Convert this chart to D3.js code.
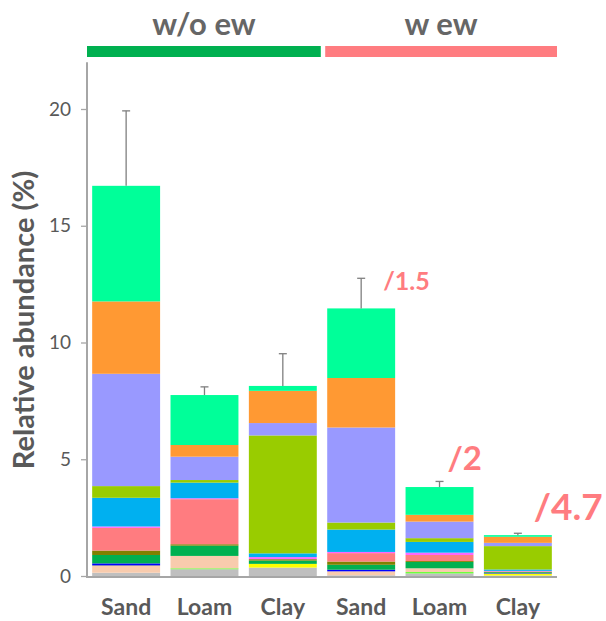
<!DOCTYPE html>
<html>
<head>
<meta charset="utf-8">
<script src="https://cdn.jsdelivr.net/npm/d3@7"></script>
<style>
  html, body { margin: 0; padding: 0; background: #fff; }
  svg { display: block; font-family: Lato, "Open Sans", sans-serif; }
</style>
</head>
<body>
<svg id="chart" width="606" height="621"></svg>
<script>
// ---- data ----
const categories = ["Sand", "Loam", "Clay", "Sand", "Loam", "Clay"];
const groups = ["w/o ew", "w ew"];
const seriesNames = ["gray", "lightgreen", "peach", "yellow", "blue", "green", "olive",
  "salmon", "magenta", "skyblue", "yellowgreen", "lavender", "orange", "springgreen"];
const seriesColors = ["#BFBFBF", "#66FF33", "#F8CBAD", "#FFFF00", "#0000FF", "#00B050", "#808000",
  "#FF7C80", "#FF66FF", "#00B0F0", "#99CC00", "#9999FF", "#FF9933", "#00FF99"];
// values per series, one per bar (Sand, Loam, Clay w/o ew; Sand, Loam, Clay w ew)
const gray        = [0.14, 0.29, 0.36, 0.03, 0.11, 0.02];
const lightgreen  = [0.00, 0.04, 0.00, 0.00, 0.06, 0.00];
const peach       = [0.29, 0.53, 0.00, 0.17, 0.16, 0.00];
const yellow      = [0.02, 0.00, 0.16, 0.00, 0.00, 0.08];
const blue        = [0.09, 0.00, 0.00, 0.07, 0.00, 0.02];
const green       = [0.36, 0.44, 0.14, 0.21, 0.27, 0.04];
const olive       = [0.19, 0.06, 0.06, 0.14, 0.04, 0.02];
const salmon      = [0.97, 1.93, 0.00, 0.36, 0.26, 0.02];
const magenta     = [0.06, 0.04, 0.09, 0.05, 0.10, 0.02];
const skyblue     = [1.23, 0.67, 0.16, 0.96, 0.46, 0.06];
const yellowgreen = [0.50, 0.11, 5.05, 0.30, 0.16, 1.00];
const lavender    = [4.81, 1.00, 0.53, 4.07, 0.71, 0.14];
const orange      = [3.10, 0.50, 1.38, 2.12, 0.29, 0.26];
const springgreen = [4.95, 2.14, 0.21, 2.98, 1.19, 0.07];
const errorTop    = [19.92, 8.10, 9.52, 12.75, 4.05, 1.83];
const yTicks = [0, 5, 10, 15, 20];
const ratioLabels = ["", "", "", "/1.5", "/2", "/4.7"];

const seriesValues = [gray, lightgreen, peach, yellow, blue, green, olive,
  salmon, magenta, skyblue, yellowgreen, lavender, orange, springgreen];

// ---- build table ----
const table = categories.map((c, i) => {
  const row = { idx: i, cat: c };
  seriesNames.forEach((s, k) => row[s] = seriesValues[k][i]);
  return row;
});
const stack = d3.stack().keys(seriesNames)(table);

// ---- scales ----
const svg = d3.select("#chart");
const x = d3.scaleBand().domain(d3.range(categories.length)).range([87, 557])
  .paddingInner(0.133).paddingOuter(0.066);
const y = d3.scaleLinear().domain([0, 22]).range([576, 62.3]);
const textCol = "#595959";
const axisCol = "#A6A6A6";

// ---- bars ----
svg.append("g").selectAll("g").data(stack).join("g")
  .attr("fill", (d, k) => seriesColors[k])
  .selectAll("rect").data(d => d).join("rect")
  .attr("x", (d, i) => x(i))
  .attr("width", x.bandwidth())
  .attr("y", d => y(d[1]))
  .attr("height", d => Math.max(0, y(d[0]) - y(d[1])));

// ---- error bars ----
const totals = table.map(r => d3.sum(seriesNames, s => r[s]));
const eb = svg.append("g").attr("stroke", "#7F7F7F").attr("stroke-width", 1.3);
errorTop.forEach((e, i) => {
  const cx = x(i) + x.bandwidth() / 2;
  eb.append("line").attr("x1", cx).attr("x2", cx).attr("y1", y(totals[i])).attr("y2", y(e));
  eb.append("line").attr("x1", cx - 4).attr("x2", cx + 4).attr("y1", y(e)).attr("y2", y(e));
});

// ---- axes ----
const yAxis = svg.append("g").attr("transform", "translate(87,0)")
  .call(d3.axisLeft(y).tickValues(yTicks).tickSize(6).tickPadding(10).tickSizeOuter(0));
yAxis.select(".domain").attr("stroke", axisCol).attr("stroke-width", 2)
  .attr("d", `M0,${y(22)}V${y(0) + 1}`);
yAxis.selectAll(".tick line").attr("stroke", axisCol).attr("stroke-width", 1.3);
yAxis.selectAll(".tick text").attr("fill", textCol).attr("font-size", 19)
  .attr("font-family", "Lato, sans-serif");

svg.append("line").attr("x1", 86).attr("x2", 557)
  .attr("y1", y(0) + 1).attr("y2", y(0) + 1)
  .attr("stroke", axisCol).attr("stroke-width", 2);

// category labels
svg.append("g").selectAll("text").data(categories).join("text")
  .attr("x", (d, i) => x(i) + x.bandwidth() / 2)
  .attr("y", 615)
  .attr("text-anchor", "middle")
  .attr("font-size", 23).attr("font-weight", "bold").attr("fill", textCol)
  .text(d => d);

// y label
svg.append("text")
  .attr("transform", "translate(34,320) rotate(-90)")
  .attr("text-anchor", "middle")
  .attr("font-size", 29).attr("font-weight", "bold").attr("fill", textCol)
  .text("Relative abundance (%)");

// ---- group headers ----
const groupColors = ["#00B050", "#FF7C80"];
const groupSpans = [[0, 2], [3, 5]];
groupSpans.forEach((sp, g) => {
  const x0 = g === 0 ? 87 : x(sp[0]) - 2;
  const x1 = g === 0 ? x(sp[1]) + x.bandwidth() + 4 : 557;
  svg.append("rect").attr("x", x0).attr("y", 46).attr("width", x1 - x0).attr("height", 11)
    .attr("fill", groupColors[g]);
  svg.append("text").attr("x", (x0 + x1) / 2).attr("y", 35)
    .attr("text-anchor", "middle").attr("font-size", 31).attr("font-weight", "bold")
    .attr("fill", "#666666").text(groups[g]);
});

// ---- ratio annotations ----
const ratioSizes = [0, 0, 0, 25, 33, 37];
const ratioDx = [0, 0, 0, -12, -26, -18];
const ratioY = [0, 0, 0, 290, 470, 520];
ratioLabels.forEach((t, i) => {
  if (!t) return;
  svg.append("text")
    .attr("x", x(i) + x.bandwidth() + ratioDx[i])
    .attr("y", ratioY[i])
    .attr("font-size", ratioSizes[i]).attr("font-weight", "bold").attr("fill", "#FF7C80")
    .text(t);
});
</script>
</body>
</html>
